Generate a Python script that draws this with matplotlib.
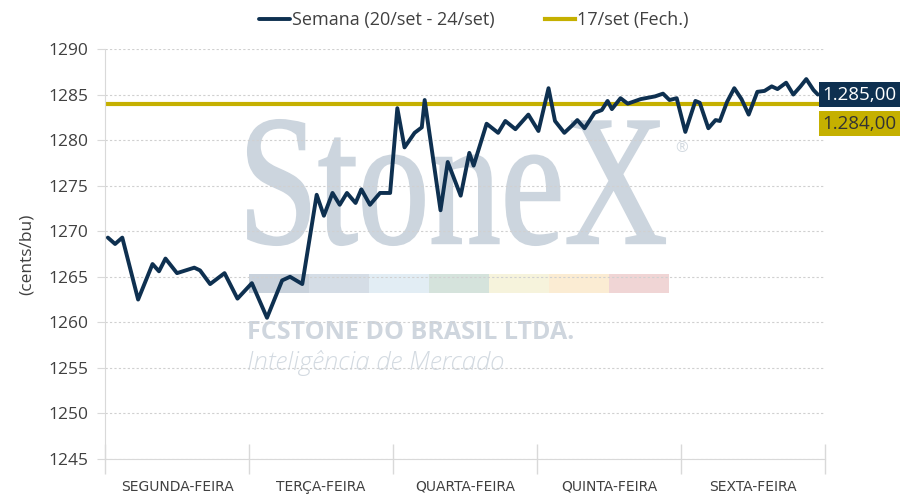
import numpy as np
import matplotlib
matplotlib.use("Agg")
import matplotlib.pyplot as plt
from matplotlib.textpath import TextPath
from matplotlib.patches import PathPatch, Rectangle
from matplotlib.font_manager import FontProperties
from matplotlib.transforms import Affine2D

# posição em dias (0 = início de segunda) e preço em cents/bu
dias = [0.02, 0.07, 0.12, 0.23, 0.33, 0.375, 0.42, 0.50, 0.62, 0.66, 0.73, 0.83, 0.92,
        1.02, 1.125, 1.23, 1.285, 1.37, 1.47, 1.52, 1.58, 1.63, 1.68, 1.74, 1.78, 1.84, 1.91, 1.98,
        2.03, 2.08, 2.15, 2.20, 2.22, 2.33, 2.38, 2.47, 2.53, 2.56, 2.65, 2.73, 2.78, 2.85, 2.94,
        3.01, 3.08, 3.125, 3.19, 3.25, 3.28, 3.33, 3.40, 3.45, 3.49, 3.52, 3.58, 3.63, 3.72, 3.82,
        3.875, 3.92, 3.97, 4.03, 4.10, 4.13, 4.19, 4.24, 4.27, 4.32, 4.37, 4.42, 4.47, 4.53, 4.58,
        4.63, 4.67, 4.73, 4.78, 4.83, 4.87, 4.92, 4.95]
semana = [1269.3, 1268.6, 1269.3, 1262.5, 1266.4, 1265.6, 1267.0, 1265.4, 1266.0, 1265.7, 1264.2, 1265.4, 1262.6,
          1264.3, 1260.5, 1264.6, 1265.0, 1264.2, 1274.0, 1271.7, 1274.2, 1272.9, 1274.2, 1273.1, 1274.6, 1272.9, 1274.2, 1274.2,
          1283.5, 1279.2, 1280.8, 1281.4, 1284.4, 1272.3, 1277.6, 1273.9, 1278.6, 1277.2, 1281.8, 1280.8, 1282.1, 1281.2, 1282.8,
          1281.0, 1285.7, 1282.1, 1280.8, 1281.7, 1282.2, 1281.3, 1283.0, 1283.3, 1284.3, 1283.4, 1284.6, 1284.0, 1284.5, 1284.8,
          1285.1, 1284.4, 1284.6, 1280.9, 1284.3, 1284.1, 1281.3, 1282.2, 1282.1, 1284.2, 1285.7, 1284.5, 1282.8, 1285.3, 1285.4,
          1285.9, 1285.6, 1286.3, 1285.0, 1285.9, 1286.7, 1285.5, 1285.0]
fechamento = 1284.0
ultimo = 1285.0
dias_semana = ["SEGUNDA-FEIRA", "TERÇA-FEIRA", "QUARTA-FEIRA", "QUINTA-FEIRA", "SEXTA-FEIRA"]
yticks = [1245, 1250, 1255, 1260, 1265, 1270, 1275, 1280, 1285, 1290]

navy = "#0e3050"
gold = "#c5b000"
cinza = "#404040"
plt.rcParams['font.family'] = ['Open Sans', 'DejaVu Sans']

fig = plt.figure(figsize=(9.01, 5.01), dpi=100)
ax = fig.add_axes([105/901, 1-459/501, 720/901, 410/501])

# marca d'água
tp = TextPath((0, 0), "StoneX", size=1, prop=FontProperties(family='Liberation Serif'))
ext = tp.get_extents()
sx = (6.65-2.48)/ext.width
sy = (3.81-2.56)/ext.height
tr = Affine2D().translate(-ext.x0, -ext.y0).scale(sx, sy).translate(2.48, 2.56) + fig.dpi_scale_trans
ax.add_artist(PathPatch(tp, transform=tr, fc="#ccd5de", ec="#ccd5de", lw=1.5, zorder=0.3))
ax.text(6.75, 3.53, "®", transform=fig.dpi_scale_trans, fontsize=11, color="#d3dae1",
        ha="left", va="center", zorder=0.3)
faixa = ["#c9d2dc", "#d5dde6", "#e2edf4", "#d5e3dc", "#f6f3dc", "#fbecd3", "#f0d5d5"]
for i, c in enumerate(faixa):
    ax.add_artist(Rectangle((2.49 + 0.6*i, 2.08), 0.6, 0.19, transform=fig.dpi_scale_trans,
                            fc=c, ec="none", zorder=0.3))
ax.text(2.47, 1.62, "FCSTONE DO BRASIL LTDA.", transform=fig.dpi_scale_trans, fontsize=18,
        fontweight="bold", color="#cfd6de", ha="left", va="baseline", zorder=0.3)
ax.text(2.47, 1.31, "Inteligência de Mercado", transform=fig.dpi_scale_trans, fontsize=18.5,
        fontstyle="italic", fontweight="light", color="#d3dae1", ha="left", va="baseline", zorder=0.3)

l1, = ax.plot(dias, semana, color=navy, lw=2.8, solid_joinstyle="round", solid_capstyle="round",
              zorder=3, label="Semana (20/set - 24/set)")
l2 = ax.axhline(fechamento, xmin=0, xmax=0.99, color=gold, lw=3, zorder=2, label="17/set (Fech.)")

ax.set_xlim(0, 5)
ax.set_ylim(1245, 1290)
ax.set_yticks(yticks)
ax.tick_params(axis="y", length=6, color="#d9d9d9", labelsize=12.5, labelcolor=cinza, pad=6)
ax.yaxis.grid(True, color="#d0d0d0", ls=(0, (2, 2)), lw=0.8)
ax.set_axisbelow(True)

ax.set_xticks(range(6))
ax.set_xticklabels([])
ax.set_xticks(np.arange(0.5, 5, 1), minor=True)
ax.set_xticklabels(dias_semana, minor=True, family=['Liberation Sans Narrow', 'DejaVu Sans'],
                   fontsize=10, color=cinza)
ax.tick_params(axis="x", which="major", direction="inout", length=22, color="#d9d9d9", width=1)
ax.tick_params(axis="x", which="minor", length=0, pad=15)

for s in ["top", "right"]:
    ax.spines[s].set_visible(False)
ax.spines["left"].set_color("#d9d9d9")
ax.spines["bottom"].set_color("#d9d9d9")

ax.set_ylabel("(cents/bu)", fontsize=12.5, color=cinza, labelpad=10)

ax.annotate("1.285,00", xy=(5, ultimo), xycoords="data", xytext=(-2, 0), textcoords="offset points",
            ha="left", va="center", fontsize=13.5, color="white", annotation_clip=False, zorder=5,
            bbox=dict(boxstyle="square,pad=0.18", fc=navy, ec="none"))
ax.annotate("1.284,00", xy=(5, fechamento), xycoords="data", xytext=(-2, -14.5), textcoords="offset points",
            ha="left", va="center", fontsize=13.5, color="#333333", annotation_clip=False, zorder=5,
            bbox=dict(boxstyle="square,pad=0.18", fc=gold, ec="none"))

fig.legend(handles=[l1, l2], loc="center", bbox_to_anchor=(0.526, 1-20/501), ncol=2, frameon=False,
           fontsize=13, labelcolor=cinza, handlelength=1.7, handletextpad=0.1, columnspacing=2.8)

fig.savefig("out.png", dpi=100)
